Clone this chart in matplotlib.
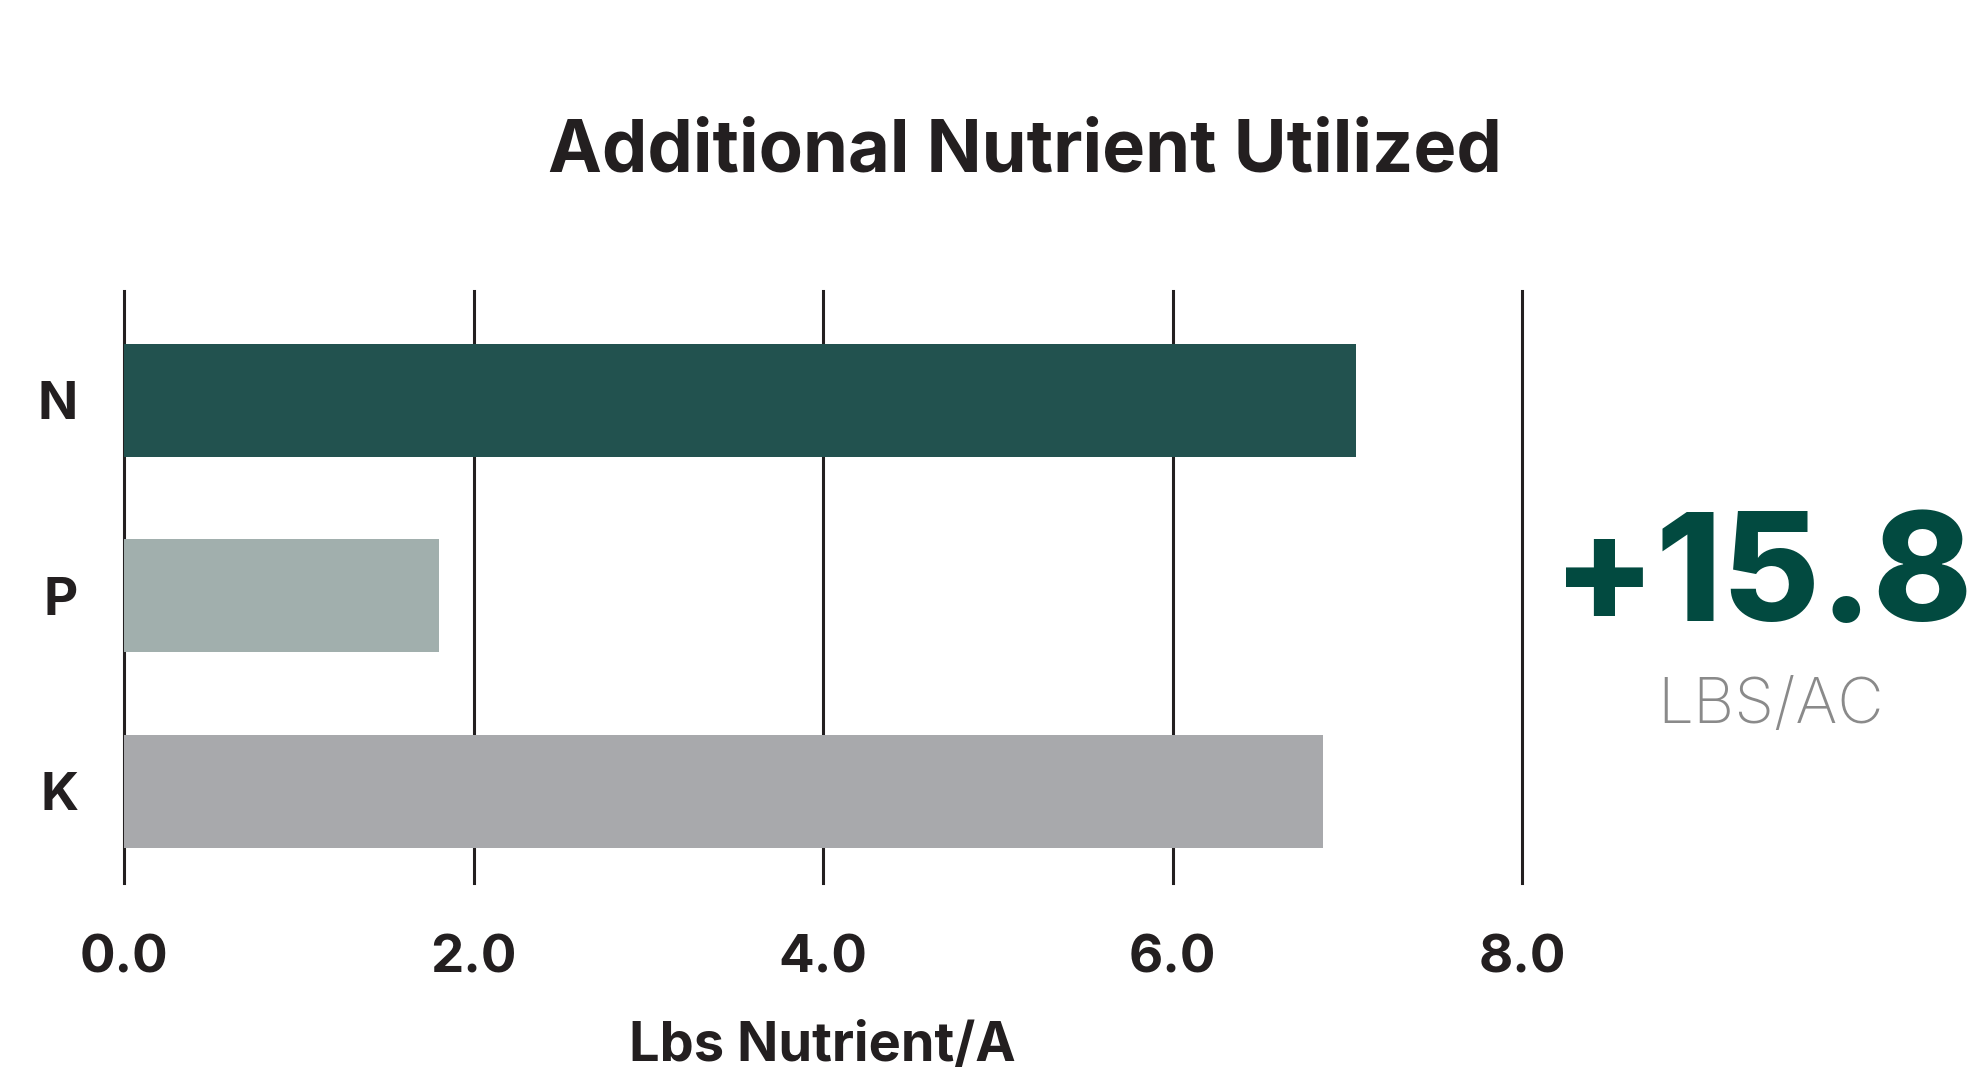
import matplotlib
matplotlib.use('Agg')
import matplotlib.pyplot as plt

nutrients = ['N', 'P', 'K']
lbs_per_acre = [7.05, 1.8, 6.86]
bar_colors = ['#22524F', '#A1AFAD', '#A8A9AC']
x_ticks = [0, 2, 4, 6, 8]
x_tick_labels = ['0.0', '2.0', '4.0', '6.0', '8.0']
total_label = '+15.8'
unit_label = 'LBS/AC'

plt.rcParams['font.family'] = ['Inter', 'DejaVu Sans']
dark = '#231F20'

W, H = 1986, 1084
fig = plt.figure(figsize=(W / 100, H / 100), dpi=100)
ax = fig.add_axes([124 / W, (H - 883) / H, 1398 / W, 592 / H])

ypos = list(range(len(nutrients)))
ax.barh(ypos, lbs_per_acre, height=0.58, color=bar_colors, zorder=3)
for xv in x_ticks:
    ax.axvline(xv, color=dark, lw=2.2, zorder=2, clip_on=False)

ax.set_xlim(0, 8)
ax.set_ylim(2.47, -0.56)
ax.set_xticks(x_ticks)
ax.set_xticklabels(x_tick_labels, fontsize=38, fontweight='bold', color=dark)
ax.set_yticks(ypos)
ax.set_yticklabels(nutrients, fontsize=38, fontweight='bold', color=dark)
ax.tick_params(axis='x', length=0, pad=37)
ax.tick_params(axis='y', length=0, pad=33)
for s in ax.spines.values():
    s.set_visible(False)

fig.text(1025 / W, 1 - 171 / H, 'Additional Nutrient Utilized', fontsize=52,
         fontweight='bold', color=dark, ha='center', va='baseline')
fig.text(822 / W, 1 - 1061 / H, 'Lbs Nutrient/A', fontsize=39,
         fontweight='bold', color=dark, ha='center', va='baseline')
fig.text(1763 / W, 1 - 621 / H, total_label, fontsize=108,
         fontweight='heavy', color='#024A40', ha='center', va='baseline')
fig.text(1771 / W, 1 - 723 / H, unit_label, fontsize=46,
         fontweight='light', color='#8A8A8A', ha='center', va='baseline')

fig.savefig('out.png', dpi=100, facecolor='white')
